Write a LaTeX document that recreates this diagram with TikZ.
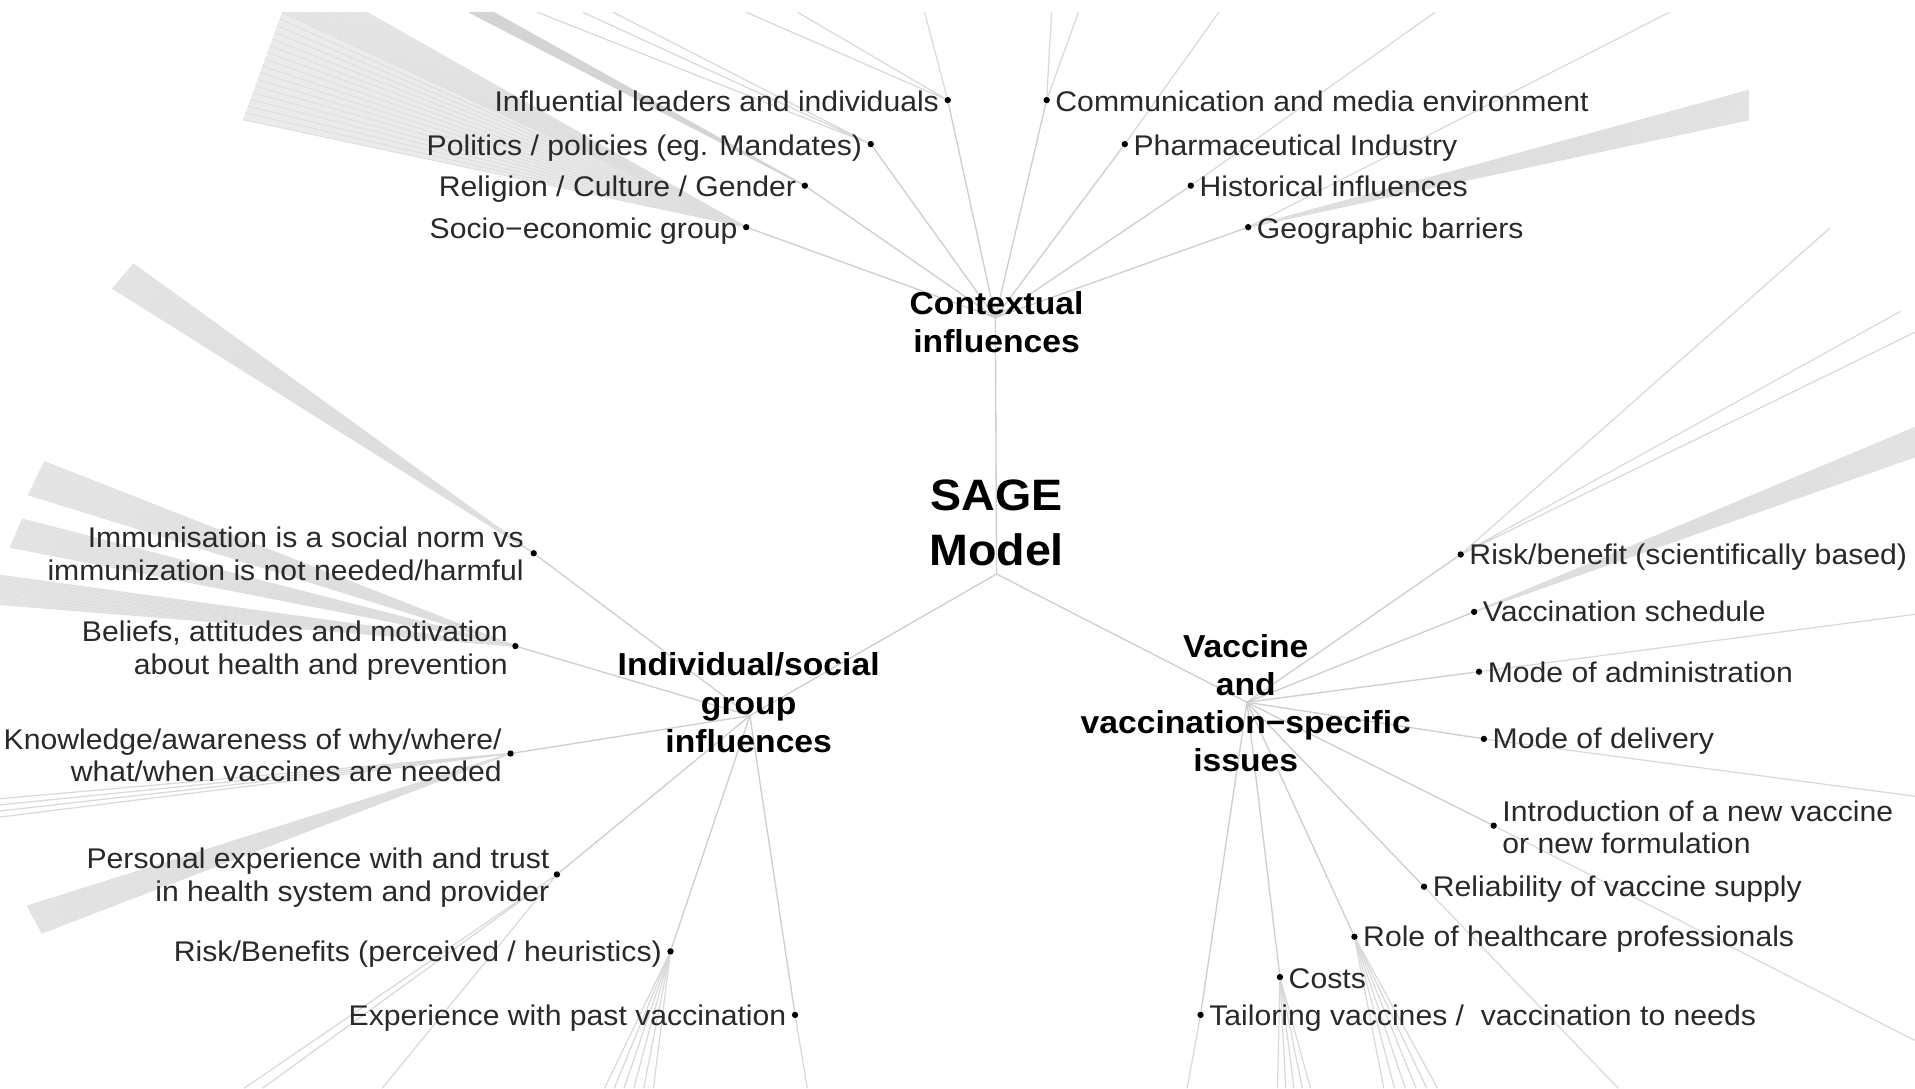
\documentclass[tikz,border=0pt]{standalone}
\usepackage{fontspec}
\setmainfont{Liberation Sans}[FakeStretch=1.06]
\usetikzlibrary{calc}
\pgfdeclarelayer{back}
\pgfdeclarelayer{bg}
\pgfsetlayers{back,bg,main}
\newcommand{\wedgefan}[3]{%
  \fill[fanfill] (#1.center) -- (#2) -- (#3) -- cycle;
  \foreach \i in {0,...,16} {\draw[fanline] (#1) -- ($(#2)!\i/16!(#3)$);}
}
\newcommand{\linefan}[4]{%
  \foreach \i in {0,...,#4} {\draw[farline] (#1) -- ($(#2)!\i/#4!(#3)$);}
}
\begin{document}
\begin{tikzpicture}[x=1pt,y=-1pt,
  leaf/.style={font=\fontsize{23.3}{26.5}\selectfont, text=black!84, inner sep=0pt},
  lleaf/.style={leaf, anchor=base east, align=right},
  rleaf/.style={leaf, anchor=base west, align=left},
  hublabel/.style={font=\bfseries\fontsize{26}{31.3}\selectfont, text=black, align=center, inner sep=0pt, anchor=base},
  dotnode/.style={circle, fill=black, inner sep=0pt, minimum size=5.2pt},
  link/.style={draw=black!19, line width=1.1pt},
  farline/.style={draw=black!15, line width=1pt},
  fanline/.style={draw=black!13, line width=0.8pt},
  fanfill/.style={fill=black!8}]

\begin{pgfonlayer}{back}
\fill[white] (0,0) rectangle (1568,891);
\end{pgfonlayer}
\useasboundingbox (0,0) rectangle (1568,891);

% hub points
\coordinate (C) at (816,470);
\coordinate (H1) at (815,260);
\coordinate (H2) at (614,586);
\coordinate (H3) at (1021,575);

% leaf dots
\node[dotnode] (a1) at (776,82) {};
\node[dotnode] (a2) at (713,118) {};
\node[dotnode] (a3) at (659,152) {};
\node[dotnode] (a4) at (611,186) {};
\node[dotnode] (a5) at (857,82) {};
\node[dotnode] (a6) at (921,118) {};
\node[dotnode] (a7) at (975,152) {};
\node[dotnode] (a8) at (1022,186) {};
\node[dotnode] (b1) at (437,453) {};
\node[dotnode] (b2) at (422,529) {};
\node[dotnode] (b3) at (418,617) {};
\node[dotnode] (b4) at (456,716) {};
\node[dotnode] (b5) at (549,779) {};
\node[dotnode] (b6) at (651,831) {};
\node[dotnode] (c1) at (1196,454) {};
\node[dotnode] (c2) at (1207,501) {};
\node[dotnode] (c3) at (1211,550) {};
\node[dotnode] (c4) at (1215,605) {};
\node[dotnode] (c5) at (1223,676) {};
\node[dotnode] (c6) at (1166,726) {};
\node[dotnode] (c7) at (1109,767) {};
\node[dotnode] (c8) at (1048,800) {};
\node[dotnode] (c9) at (983,831) {};

% far ends
\coordinate (ea1a) at (757,10);
\coordinate (ea1b) at (653,10);
\coordinate (ea1c) at (611,10);
\coordinate (ea2a) at (440,10);
\coordinate (ea2b) at (477,10);
\coordinate (ea2c) at (502,10);
\coordinate (fa3p) at (384,10);
\coordinate (fa3q) at (404,10);
\coordinate (fa4p) at (199,98);
\coordinate (fa4q) at (231,10);
\coordinate (fa4r) at (300,10);
\coordinate (ea5a) at (861,10);
\coordinate (ea5b) at (883,10);
\coordinate (ea6) at (998,10);
\coordinate (ea7) at (1175,10);
\coordinate (ea8) at (1367,10);
\coordinate (fa8p) at (1432,74);
\coordinate (fa8q) at (1432,98);
\coordinate (fb1p) at (92,236);
\coordinate (fb1q) at (109,216);
\coordinate (fb2p) at (23,405);
\coordinate (fb2q) at (36,378);
\coordinate (fb2r) at (8,448);
\coordinate (fb2s) at (18,425);
\coordinate (fb2t) at (0,471);
\coordinate (fb2u) at (0,495);
\coordinate (fb3p) at (0,654);
\coordinate (fb3q) at (0,669);
\coordinate (fb3r) at (22,742);
\coordinate (fb3s) at (34,764);
\coordinate (eb4a) at (200,891);
\coordinate (eb4b) at (215,891);
\coordinate (eb4c) at (313,891);
\coordinate (fb5p) at (495,891);
\coordinate (fb5q) at (535,891);
\coordinate (eb6) at (661,891);
\coordinate (ec1a) at (1498,187);
\coordinate (ec1b) at (1556,255);
\coordinate (ec1c) at (1568,272);
\coordinate (fc2p) at (1568,350);
\coordinate (fc2q) at (1568,374);
\coordinate (ec3) at (1568,503);
\coordinate (ec4) at (1568,652);
\coordinate (ec5) at (1568,852);
\coordinate (ec6) at (1325,891);
\coordinate (fc7p) at (1133,891);
\coordinate (fc7q) at (1177,891);
\coordinate (fc8p) at (1046,891);
\coordinate (fc8q) at (1073,891);
\coordinate (ec9) at (972,891);

\begin{pgfonlayer}{bg}
% wedges
\begin{scope}[fanfill/.style={fill=black!11}, fanline/.style={draw=black!17, line width=0.8pt}]
\wedgefan{a3}{fa3p}{fa3q}
\end{scope}
\wedgefan{a4}{fa4p}{fa4q}
\wedgefan{a4}{fa4q}{fa4r}
\wedgefan{a8}{fa8p}{fa8q}
\wedgefan{b1}{fb1p}{fb1q}
\wedgefan{b2}{fb2p}{fb2q}
\wedgefan{b2}{fb2r}{fb2s}
\wedgefan{b2}{fb2t}{fb2u}
\wedgefan{b3}{fb3r}{fb3s}
\wedgefan{c2}{fc2p}{fc2q}
% line fans
\linefan{b3}{fb3p}{fb3q}{3}
\linefan{b5}{fb5p}{fb5q}{5}
\linefan{c7}{fc7p}{fc7q}{5}
\linefan{c8}{fc8p}{fc8q}{4}
% single outer lines
\draw[farline] (a1) -- (ea1a) (a1) -- (ea1b) (a1) -- (ea1c);
\draw[farline] (a2) -- (ea2a) (a2) -- (ea2b) (a2) -- (ea2c);
\draw[farline] (a5) -- (ea5a) (a5) -- (ea5b);
\draw[farline] (a6) -- (ea6);
\draw[farline] (a7) -- (ea7);
\draw[farline] (a8) -- (ea8);
\draw[farline] (b4) -- (eb4a) (b4) -- (eb4b) (b4) -- (eb4c);
\draw[farline] (b6) -- (eb6);
\draw[farline] (c1) -- (ec1a) (c1) -- (ec1b) (c1) -- (ec1c);
\draw[farline] (c3) -- (ec3);
\draw[farline] (c4) -- (ec4);
\draw[farline] (c5) -- (ec5);
\draw[farline] (c6) -- (ec6);
\draw[farline] (c9) -- (ec9);
% hub links
\draw[link] (C) -- (H1);
\draw[link] (C) -- (H2);
\draw[link] (C) -- (H3);
\foreach \n in {a1,a2,a3,a4,a5,a6,a7,a8} {\draw[link] (H1) -- (\n);}
\foreach \n in {b1,b2,b3,b4,b5,b6} {\draw[link] (H2) -- (\n);}
\foreach \n in {c1,c2,c3,c4,c5,c6,c7,c8,c9} {\draw[link] (H3) -- (\n);}
\end{pgfonlayer}

% hub labels (base anchor = baseline of last line)
\node[hublabel, font=\bfseries\fontsize{36}{45}\selectfont] (sage) at (816,463) {SAGE\\Model};
\node[hublabel] (h1) at (816,289) {Contextual\\influences};
\node[hublabel] (h2) at (613,616) {Individual/social\\group\\influences};
\node[hublabel] (h3) at (1020,632) {Vaccine\\and\\vaccination−specific\\issues};

% leaf labels
\node[lleaf] (ta1) at (769,91) {Influential leaders and individuals};
\node[lleaf] (ta2) at (706,127) {Politics / policies (eg. Mandates)};
\node[lleaf] (ta3) at (652,161) {Religion / Culture / Gender};
\node[lleaf] (ta4) at (604,195) {Socio−economic group};
\node[rleaf] (ta5) at (864,91) {Communication and media environment};
\node[rleaf] (ta6) at (928,127) {Pharmaceutical Industry};
\node[rleaf] (ta7) at (982,161) {Historical influences};
\node[rleaf] (ta8) at (1029,195) {Geographic barriers};

\node[lleaf] (tb1) at (429,475) {Immunisation is a social norm vs\\immunization is not needed/harmful};
\node[lleaf] (tb2) at (416,552) {Beliefs, attitudes and motivation\\about health and prevention};
\node[lleaf] (tb3) at (411,640) {Knowledge/awareness of why/where/\\what/when vaccines are needed};
\node[lleaf] (tb4) at (450,738) {Personal experience with and trust\\in health system and provider};
\node[lleaf] (tb5) at (542,787) {Risk/Benefits (perceived / heuristics)};
\node[lleaf] (tb6) at (644,840) {Experience with past vaccination};

\node[rleaf] (tc1) at (1203,462) {Risk/benefit (scientifically based)};
\node[rleaf] (tc2) at (1214,509) {Vaccination schedule};
\node[rleaf] (tc3) at (1218,559) {Mode of administration};
\node[rleaf] (tc4) at (1222,613) {Mode of delivery};
\node[rleaf] (tc5) at (1230,699) {Introduction of a new vaccine\\or new formulation};
\node[rleaf] (tc6) at (1173,734) {Reliability of vaccine supply};
\node[rleaf] (tc7) at (1116,775) {Role of healthcare professionals};
\node[rleaf] (tc8) at (1055,809) {Costs};
\node[rleaf] (tc9) at (990,840) {Tailoring vaccines /~ vaccination to needs};
\end{tikzpicture}
\end{document}
